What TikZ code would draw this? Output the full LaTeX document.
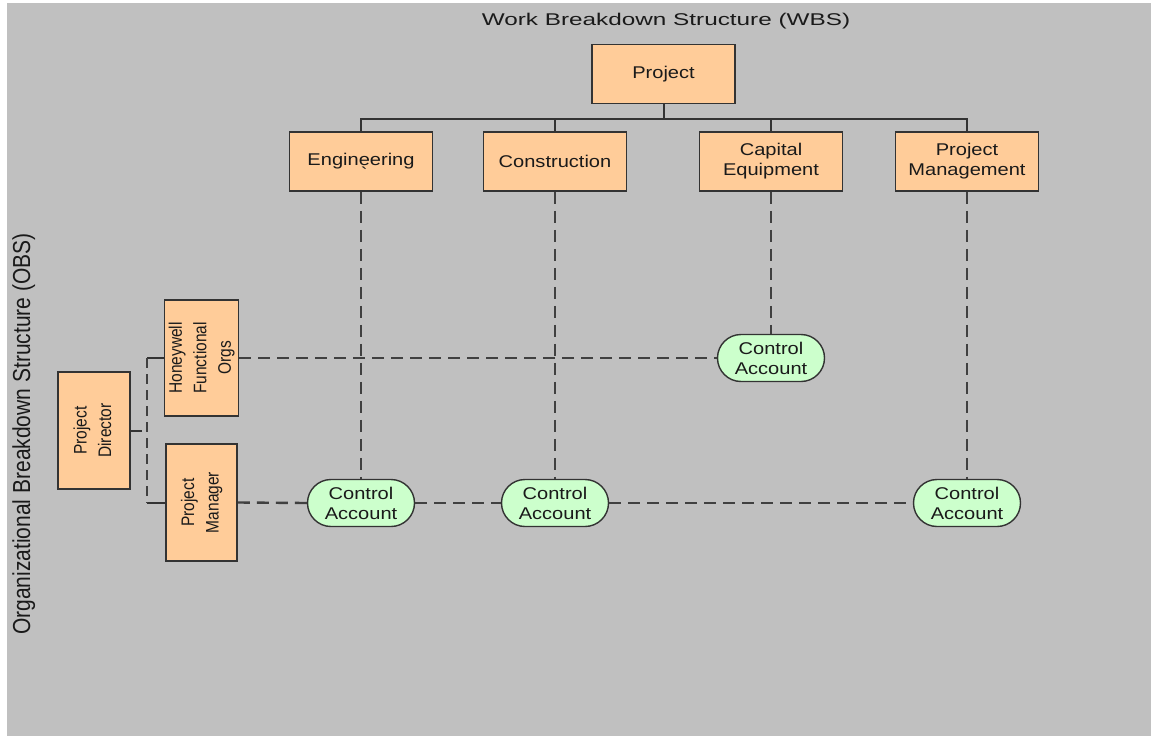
\documentclass[tikz,border=0pt]{standalone}
\usepackage{fontspec}
\usepackage{graphicx}
\setmainfont{Liberation Sans}
\newfontfamily\boxfont[FakeStretch=1.18]{Liberation Sans}
\newfontfamily\titlefont[FakeStretch=1.43]{Liberation Sans}
\newfontfamily\sidefont{Liberation Sans}

\definecolor{panel}{HTML}{C0C0C0}
\definecolor{wbsfill}{HTML}{FFCC99}
\definecolor{cafill}{HTML}{CCFFCC}
\definecolor{ink}{HTML}{333333}
\definecolor{dashink}{HTML}{404040}
\definecolor{txt}{HTML}{1A1A1A}

% vertical text inside the organisation boxes
\newcommand\obstext[1]{\rotatebox{90}{\scalebox{1}[1.17]{\sidefont\fontsize{15.5}{21}\selectfont
  \begin{tabular}{@{}c@{}}#1\end{tabular}}}}

\tikzset{
  wbsbox/.style={draw=ink, line width=1.6pt, fill=wbsfill, text=txt,
    minimum width=143pt, minimum height=59pt, inner sep=0pt, align=center,
    font=\boxfont\fontsize{17}{20}\selectfont},
  obsbox/.style={draw=ink, line width=1.6pt, fill=wbsfill, text=txt,
    minimum width=72pt, minimum height=117pt, inner sep=0pt},
  acct/.style={draw=ink, line width=1.4pt, fill=cafill, text=txt,
    minimum width=107pt, minimum height=47pt, rounded corners=23.5pt,
    inner sep=0pt, align=center, font=\boxfont\fontsize{17}{20}\selectfont},
  tree/.style={draw=ink, line width=2pt},
  link/.style={draw=dashink, line width=2.4pt, dash pattern=on 12pt off 7pt},
}

\begin{document}
\begin{tikzpicture}[x=1pt, y=-1pt]
  % canvas
  \fill[white] (0,0) rectangle (1151,736);
  \fill[panel] (7,3) rectangle (1151,736);
  \useasboundingbox (0,0) rectangle (1151,736);

  % headings
  \node[anchor=base, text=txt, font=\titlefont\fontsize{17}{20}\selectfont]
    (wbstitle) at (666,25) {Work Breakdown Structure (WBS)};
  \node[anchor=base, rotate=90, text=txt, inner sep=0pt]
    (obstitle) at (30,434)
    {\scalebox{1}[1.17]{\sidefont\fontsize{21}{24}\selectfont Organizational Breakdown Structure (OBS)}};

  % WBS boxes
  \node[wbsbox] (proj) at (663.5,74) {Project};
  \node[wbsbox] (eng)  at (361,161.5)
    {Engin\makebox[0pt][l]{\hspace{2pt}\raisebox{-14pt}[0pt][0pt]{\textasciigrave}}eering};
  \node[wbsbox] (cons) at (555,161.5) {Construction};
  \node[wbsbox] (cape) at (771,161.5) {Capital\\Equipment};
  \node[wbsbox] (pmgt) at (967,161.5) {Project\\Management};

  % OBS boxes
  \node[obsbox] (dir) at (94,430.5) {\obstext{Project\\Director}};
  \node[obsbox, minimum width=71pt, minimum height=116pt] (hon) at (201.5,358)
    {\obstext{Honeywell\\Functional\\Orgs}};
  \node[obsbox, minimum width=71pt] (mgr) at (201.5,502.5)
    {\obstext{Project\\Manager}};

  % control accounts
  \node[acct] (ca1) at (361,503) {Control\\Account};
  \node[acct] (ca2) at (555,503) {Control\\Account};
  \node[acct] (ca3) at (771,358) {Control\\Account};
  \node[acct] (ca4) at (967,503) {Control\\Account};

  % WBS tree
  \coordinate (bus) at (663.5,119);
  \draw[tree] (proj.south) -- (bus);
  \draw[tree] (eng.north) |- (bus) -| (pmgt.north);
  \draw[tree] (cons.north) -- (cons.north |- bus);
  \draw[tree] (cape.north) -- (cape.north |- bus);

  % OBS tree
  \coordinate (stub) at (142,430.5);
  \coordinate (brtop) at (147,358);
  \coordinate (brbot) at (147,502.5);
  \draw[tree] (dir.east) -- (stub);
  \draw[tree] (hon.west) -- (brtop);
  \draw[tree] (mgr.west) -- (brbot);
  \draw[link, dash pattern=on 10pt off 6pt] (brtop) -- (brbot);

  % responsibility links
  \draw[link] (hon.east) -- (ca3.west);
  \draw[link] (mgr.east) -- (ca1.west);
  \draw[link] (ca1.east) -- (ca2.west);
  \draw[link] (ca2.east) -- (ca4.west);
  \draw[link] (eng.south) -- (ca1.north);
  \draw[link] (cons.south) -- (ca2.north);
  \draw[link] (cape.south) -- (ca3.north);
  \draw[link] (pmgt.south) -- (ca4.north);
\end{tikzpicture}
\end{document}
